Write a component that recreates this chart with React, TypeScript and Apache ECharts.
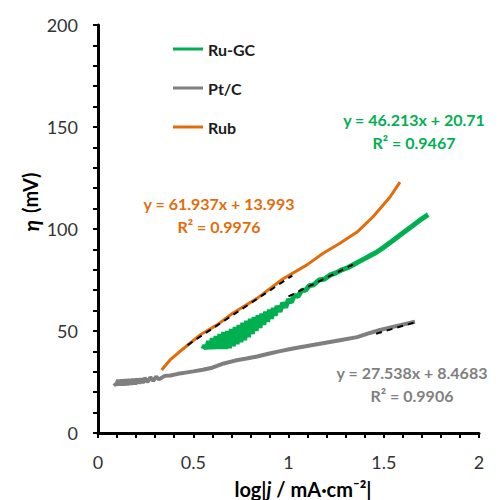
import React, { useEffect, useRef } from "react";
import * as echarts from "echarts";

// Ru-GC (noisy band)
const ruGcX = [0.551, 0.56, 0.57, 0.58, 0.59, 0.6, 0.61, 0.62, 0.63, 0.64, 0.65, 0.66, 0.67, 0.68, 0.69, 0.7, 0.71, 0.72, 0.73, 0.74, 0.75, 0.76, 0.77, 0.78, 0.79, 0.8, 0.81, 0.82, 0.83, 0.84, 0.85, 0.86, 0.87, 0.88, 0.89, 0.9, 0.91, 0.92, 0.93, 0.94, 0.955, 0.97, 0.985, 1.0, 1.015, 1.03, 1.05, 1.07, 1.09, 1.11, 1.13, 1.16, 1.19, 1.22, 1.25, 1.28, 1.31, 1.34, 1.37, 1.4, 1.43, 1.46, 1.5, 1.55, 1.6, 1.65, 1.7, 1.733];
const ruGcY = [41.2, 43, 41.2, 45, 41.2, 46.5, 41.2, 47.5, 41.2, 48.5, 41.2, 49.5, 41.2, 50, 41.5, 51, 42.5, 52, 43.5, 53, 44.5, 54, 45.5, 55, 47, 56, 48.5, 56.8, 50, 57.7, 51.5, 58.6, 53, 59.5, 54.5, 60.5, 56, 61.3, 57.5, 62.2, 59.5, 63.8, 61.5, 65.5, 64, 67.5, 67, 70, 70, 72.3, 72.5, 75, 75.5, 77.5, 78.5, 80, 81, 82.5, 84, 85.5, 87, 88.5, 91, 94.5, 98, 101.5, 105, 107];

// Pt/C
const ptcX = [0.085, 0.095, 0.105, 0.115, 0.125, 0.135, 0.145, 0.155, 0.165, 0.175, 0.185, 0.195, 0.205, 0.215, 0.225, 0.235, 0.245, 0.26, 0.275, 0.29, 0.305, 0.32, 0.35, 0.38, 0.42, 0.46, 0.5, 0.55, 0.6, 0.66, 0.72, 0.78, 0.835, 0.9, 0.95, 1.01, 1.09, 1.18, 1.27, 1.36, 1.42, 1.48, 1.57, 1.664];
const ptcY = [24.5, 23.3, 26, 23.3, 26.2, 23.4, 26.3, 23.5, 26.4, 23.7, 26.5, 23.9, 26.6, 24.2, 26.8, 24.5, 27, 25, 27.3, 25.6, 27.6, 26.3, 28, 28.2, 29, 29.6, 30.2, 31, 32, 34.1, 35.5, 36.5, 37.5, 39, 40, 41.2, 42.5, 44, 45.5, 47, 48.8, 50.5, 52.5, 54.5];

// Rub
const rubX = [0.334, 0.378, 0.42, 0.483, 0.535, 0.625, 0.709, 0.835, 0.97, 1.097, 1.18, 1.27, 1.36, 1.444, 1.533, 1.585];
const rubY = [30.9, 35.8, 39.2, 44, 48, 53, 58.8, 66, 75.5, 82.4, 88, 93, 98.5, 106, 115.7, 123];

// Linear fits (slope, intercept) and the x-range each dashed fit line covers
const fitSlope = [46.213, 27.538, 61.937];
const fitIntercept = [20.71, 8.4683, 13.993];
const fitR2 = ["0.9467", "0.9906", "0.9976"];
const fitRange = [[1.0, 1.34], [1.46, 1.66], [0.47, 1.02]];

const seriesNames = ["Ru-GC", "Pt/C", "Rub"];
const seriesColors = ["#00B050", "#7F7F7F", "#E36C0A"];

const xTicks = [0, 2, 0.5];
const yTicks = [0, 200, 50];

const zip = (xs: number[], ys: number[]) => xs.map((x, i) => [x, ys[i]]);

export default function App() {
  const ref = useRef<HTMLDivElement>(null);
  useEffect(() => {
    document.body.style.margin = "0";
    if (!ref.current) return;
    const chart = echarts.init(ref.current, null, { renderer: "svg" });
    const dataSets = [zip(ruGcX, ruGcY), zip(ptcX, ptcY), zip(rubX, rubY)];
    const widths = [5, 4, 3];
    const main = seriesNames.map((n, i) => ({
      name: n,
      type: "line",
      data: dataSets[i],
      showSymbol: false,
      symbol: "none",
      lineStyle: { color: seriesColors[i], width: widths[i] },
      itemStyle: { color: seriesColors[i] },
      z: 2,
    }));
    const fits = fitSlope.map((s, i) => ({
      name: "fit" + i,
      type: "line",
      data: fitRange[i].map((x) => [x, s * x + fitIntercept[i]]),
      showSymbol: false,
      symbol: "none",
      lineStyle: { color: "#000", width: 2, type: [6, 5] },
      z: 3,
    }));
    const font = "Lato, 'Open Sans', sans-serif";
    const eqText = (i: number) =>
      `y = ${fitSlope[i]}x + ${fitIntercept[i]}\nR² = ${fitR2[i]}`;
    const eqPos = [
      [414, 131],
      [412, 384],
      [219, 215],
    ];
    const axisCommon = {
      axisLine: { show: true, lineStyle: { color: "#000", width: 3 } },
      axisTick: { show: true, length: 5, lineStyle: { color: "#000", width: 2 } },
      minorTick: { show: true, splitNumber: 5, length: 5, lineStyle: { color: "#000", width: 2 } },
      splitLine: { show: false },
      minorSplitLine: { show: false },
    };
    chart.setOption({
      animation: false,
      grid: { left: 98, right: 20, top: 25, bottom: 67 },
      xAxis: {
        type: "value",
        min: xTicks[0],
        max: xTicks[1],
        interval: xTicks[2],
        ...axisCommon,
        axisLabel: { fontFamily: font, fontSize: 18, color: "#333", margin: 20 },
      },
      yAxis: {
        type: "value",
        min: yTicks[0],
        max: yTicks[1],
        interval: yTicks[2],
        ...axisCommon,
        axisLabel: { fontFamily: font, fontSize: 18, color: "#333", margin: 20 },
      },
      legend: {
        orient: "vertical",
        left: 168,
        top: 36,
        icon: "rect",
        itemWidth: 30,
        itemHeight: 3,
        itemGap: 23,
        data: seriesNames,
        textStyle: { fontFamily: font, fontWeight: "bold", fontSize: 16, color: "#1a1a1a" },
      },
      graphic: [
        ...fitSlope.map((_, i) => ({
          type: "text",
          x: eqPos[i][0],
          y: eqPos[i][1],
          style: {
            text: eqText(i),
            fill: seriesColors[i],
            font: `bold 16px ${font}`,
            align: "center",
            verticalAlign: "middle",
            lineHeight: 23,
          },
        })),
        {
          type: "text",
          x: 30,
          y: 202,
          rotation: Math.PI / 2,
          style: {
            text: "{i|η}{s| }{b|(mV)}",
            align: "center",
            verticalAlign: "middle",
            rich: {
              i: { font: `italic bold 21px ${font}`, fill: "#000" },
              s: { font: `bold 20px ${font}`, width: 7 },
              b: { font: `bold 20px ${font}`, fill: "#000" },
            },
          },
        },
        {
          type: "text",
          x: 303,
          y: 489,
          style: {
            text: "{b|log|}{i|j}{b| / mA·cm⁻²|}",
            align: "center",
            verticalAlign: "middle",
            rich: {
              i: { font: `italic bold 20px ${font}`, fill: "#000" },
              b: { font: `bold 20px ${font}`, fill: "#000" },
            },
          },
        },
      ],
      series: [...main, ...fits],
    });
    return () => chart.dispose();
  }, []);
  return <div ref={ref} style={{ width: 499, height: 500 }} />;
}
